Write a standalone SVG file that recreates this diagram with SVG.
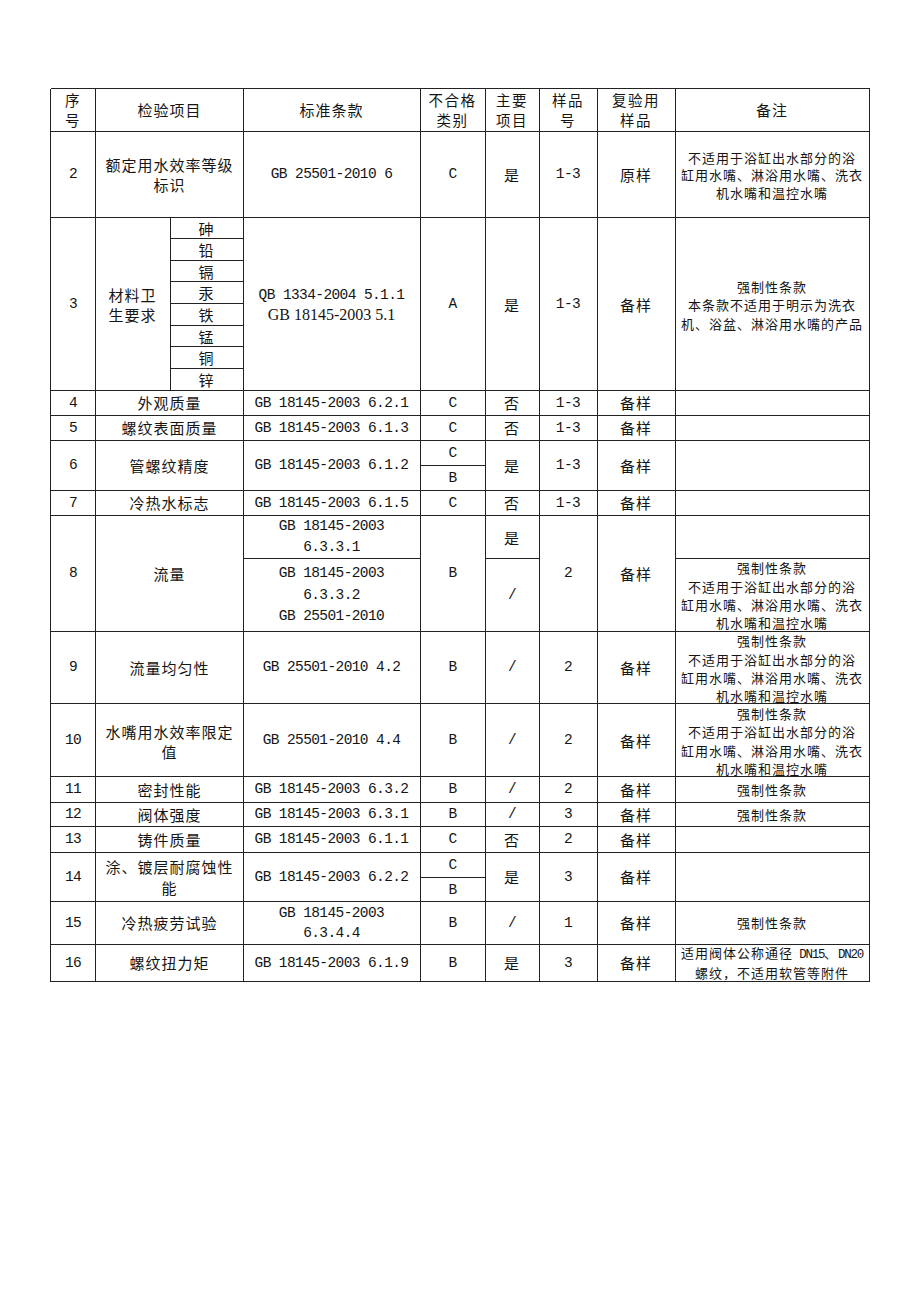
<svg xmlns="http://www.w3.org/2000/svg" width="920" height="1302" viewBox="0 0 920 1302">
<style>
text{fill:#151515;text-anchor:middle;dominant-baseline:central}
.t{font-family:"Noto Sans CJK SC",sans-serif;font-size:15px;letter-spacing:1px}
.h{font-family:"Noto Sans CJK SC",sans-serif;font-size:14.5px;letter-spacing:1.5px}
.m{font-family:"Liberation Mono","Noto Sans CJK SC",monospace;font-size:14.5px;letter-spacing:-0.6px}
.s{font-family:"Liberation Serif",serif;font-size:16px}
.r{font-family:"Noto Sans CJK SC",sans-serif;font-size:13px;letter-spacing:1px}
.rb{dominant-baseline:auto}
.ml{font-family:"Liberation Mono",monospace;font-size:12.5px;letter-spacing:-1.3px}
.g{stroke:#222;stroke-width:1;fill:none;shape-rendering:crispEdges}
</style>
<rect width="920" height="1302" fill="#fff"/>
<g id="grid" class="g">
<path d="M50.5 88.5H869.5M50.5 131.5H869.5M50.5 217.5H869.5M50.5 390.5H869.5M50.5 415.5H869.5M50.5 440.5H869.5M50.5 490.5H869.5M50.5 515.5H869.5M50.5 631.5H869.5M50.5 703.5H869.5M50.5 776.5H869.5M50.5 802.5H869.5M50.5 826.5H869.5M50.5 852.5H869.5M50.5 901.5H869.5M50.5 944.5H869.5M50.5 981.5H869.5"/>
<path d="M50.5 88.5V981.5M95.5 88.5V981.5M243.5 88.5V981.5M420.5 88.5V981.5M485.5 88.5V981.5M539.5 88.5V981.5M597.5 88.5V981.5M675.5 88.5V981.5M869.5 88.5V981.5"/>
<path d="M170.5 217.5V390.5M170.5 238.5H243.5M170.5 260.5H243.5M170.5 281.5H243.5M170.5 303.5H243.5M170.5 325.5H243.5M170.5 346.5H243.5M170.5 368.5H243.5"/>
<path d="M420.5 465.5H485.5M420.5 877.5H485.5M243.5 558.5H420.5M485.5 558.5H539.5M675.5 558.5H869.5"/>
</g>
<g id="header">
<text class="h" x="73" y="99.5">序</text><text class="h" x="73" y="119">号</text>
<text class="t" x="169.5" y="109">检验项目</text>
<text class="t" x="331.5" y="109">标准条款</text>
<text class="h" x="452.5" y="99.5">不合格</text><text class="h" x="452.5" y="119">类别</text>
<text class="h" x="512" y="99.5">主要</text><text class="h" x="512" y="119">项目</text>
<text class="h" x="568" y="99.5">样品</text><text class="h" x="568" y="119">号</text>
<text class="h" x="636" y="99.5">复验用</text><text class="h" x="636" y="119">样品</text>
<text class="t" x="772" y="109">备注</text>
</g>
<g id="row2">
<text class="m" x="73" y="174">2</text>
<text class="t" x="169.5" y="164">额定用水效率等级</text><text class="t" x="169.5" y="184">标识</text>
<text class="m" x="331.5" y="174">GB 25501-2010 6</text>
<text class="m" x="452.5" y="174">C</text><text class="t" x="512" y="174">是</text><text class="m" x="568" y="174">1-3</text><text class="t" x="636" y="174">原样</text>
<text class="r" x="772" y="157">不适用于浴缸出水部分的浴</text><text class="r" x="772" y="174.5">缸用水嘴、淋浴用水嘴、洗衣</text><text class="r" x="772" y="192">机水嘴和温控水嘴</text>
</g>
<g id="row3">
<text class="m" x="73" y="304">3</text>
<text class="t" x="132.5" y="294">材料卫</text><text class="t" x="132.5" y="314">生要求</text>
<text class="t" x="206.5" y="228">砷</text><text class="t" x="206.5" y="249.5">铅</text><text class="t" x="206.5" y="271">镉</text><text class="t" x="206.5" y="292.5">汞</text><text class="t" x="206.5" y="314">铁</text><text class="t" x="206.5" y="336">锰</text><text class="t" x="206.5" y="357.5">铜</text><text class="t" x="206.5" y="379">锌</text>
<text class="m" x="331.5" y="295">QB 1334-2004 5.1.1</text>
<text class="s" x="331.5" y="314">GB 18145-2003 5.1</text>
<text class="m" x="452.5" y="304">A</text><text class="t" x="512" y="304">是</text><text class="m" x="568" y="304">1-3</text><text class="t" x="636" y="304">备样</text>
<text class="r" x="772" y="286">强制性条款</text><text class="r" x="772" y="304.5">本条款不适用于明示为洗衣</text><text class="r" x="772" y="323">机、浴盆、淋浴用水嘴的产品</text>
</g>
<g id="row4">
<text class="m" x="73" y="402.5">4</text><text class="t" x="169.5" y="402.5">外观质量</text><text class="m" x="331.5" y="402.5">GB 18145-2003 6.2.1</text>
<text class="m" x="452.5" y="402.5">C</text><text class="t" x="512" y="402.5">否</text><text class="m" x="568" y="402.5">1-3</text><text class="t" x="636" y="402.5">备样</text>
</g>
<g id="row5">
<text class="m" x="73" y="427.5">5</text><text class="t" x="169.5" y="427.5">螺纹表面质量</text><text class="m" x="331.5" y="427.5">GB 18145-2003 6.1.3</text>
<text class="m" x="452.5" y="427.5">C</text><text class="t" x="512" y="427.5">否</text><text class="m" x="568" y="427.5">1-3</text><text class="t" x="636" y="427.5">备样</text>
</g>
<g id="row6">
<text class="m" x="73" y="465">6</text><text class="t" x="169.5" y="465">管螺纹精度</text><text class="m" x="331.5" y="465">GB 18145-2003 6.1.2</text>
<text class="m" x="452.5" y="453">C</text><text class="m" x="452.5" y="478">B</text><text class="t" x="512" y="465">是</text><text class="m" x="568" y="465">1-3</text><text class="t" x="636" y="465">备样</text>
</g>
<g id="row7">
<text class="m" x="73" y="502.5">7</text><text class="t" x="169.5" y="502.5">冷热水标志</text><text class="m" x="331.5" y="502.5">GB 18145-2003 6.1.5</text>
<text class="m" x="452.5" y="502.5">C</text><text class="t" x="512" y="502.5">否</text><text class="m" x="568" y="502.5">1-3</text><text class="t" x="636" y="502.5">备样</text>
</g>
<g id="row8">
<text class="m" x="73" y="573">8</text><text class="t" x="169.5" y="573">流量</text>
<text class="m" x="331.5" y="526">GB 18145-2003</text><text class="m" x="331.5" y="547">6.3.3.1</text>
<text class="m" x="331.5" y="573">GB 18145-2003</text><text class="m" x="331.5" y="595">6.3.3.2</text><text class="m" x="331.5" y="616">GB 25501-2010</text>
<text class="m" x="452.5" y="573">B</text><text class="t" x="512" y="537">是</text><text class="m" x="512" y="595">/</text><text class="m" x="568" y="573">2</text><text class="t" x="636" y="573">备样</text>
<text class="r" x="772" y="567.5">强制性条款</text><text class="r" x="772" y="586">不适用于浴缸出水部分的浴</text><text class="r" x="772" y="604">缸用水嘴、淋浴用水嘴、洗衣</text><text class="r" x="772" y="622">机水嘴和温控水嘴</text>
</g>
<g id="row9">
<text class="m" x="73" y="667">9</text><text class="t" x="169.5" y="667">流量均匀性</text><text class="m" x="331.5" y="667">GB 25501-2010 4.2</text>
<text class="m" x="452.5" y="667">B</text><text class="m" x="512" y="667">/</text><text class="m" x="568" y="667">2</text><text class="t" x="636" y="667">备样</text>
<text class="r" x="772" y="640.5">强制性条款</text><text class="r" x="772" y="659">不适用于浴缸出水部分的浴</text><text class="r" x="772" y="677.5">缸用水嘴、淋浴用水嘴、洗衣</text><text class="r" x="772" y="695.5">机水嘴和温控水嘴</text>
</g>
<g id="row10">
<text class="m" x="73" y="740">10</text><text class="t" x="169.5" y="731">水嘴用水效率限定</text><text class="t" x="169.5" y="751">值</text><text class="m" x="331.5" y="740">GB 25501-2010 4.4</text>
<text class="m" x="452.5" y="740">B</text><text class="m" x="512" y="740">/</text><text class="m" x="568" y="740">2</text><text class="t" x="636" y="740">备样</text>
<text class="r" x="772" y="713">强制性条款</text><text class="r" x="772" y="731.5">不适用于浴缸出水部分的浴</text><text class="r" x="772" y="750">缸用水嘴、淋浴用水嘴、洗衣</text><text class="r" x="772" y="768">机水嘴和温控水嘴</text>
</g>
<g id="row11">
<text class="m" x="73" y="789">11</text><text class="t" x="169.5" y="789">密封性能</text><text class="m" x="331.5" y="789">GB 18145-2003 6.3.2</text>
<text class="m" x="452.5" y="789">B</text><text class="m" x="512" y="789">/</text><text class="m" x="568" y="789">2</text><text class="t" x="636" y="789">备样</text><text class="r" x="772" y="789">强制性条款</text>
</g>
<g id="row12">
<text class="m" x="73" y="814">12</text><text class="t" x="169.5" y="814">阀体强度</text><text class="m" x="331.5" y="814">GB 18145-2003 6.3.1</text>
<text class="m" x="452.5" y="814">B</text><text class="m" x="512" y="814">/</text><text class="m" x="568" y="814">3</text><text class="t" x="636" y="814">备样</text><text class="r" x="772" y="814">强制性条款</text>
</g>
<g id="row13">
<text class="m" x="73" y="839">13</text><text class="t" x="169.5" y="839">铸件质量</text><text class="m" x="331.5" y="839">GB 18145-2003 6.1.1</text>
<text class="m" x="452.5" y="839">C</text><text class="t" x="512" y="839">否</text><text class="m" x="568" y="839">2</text><text class="t" x="636" y="839">备样</text>
</g>
<g id="row14">
<text class="m" x="73" y="876.5">14</text><text class="t" x="169.5" y="866.5">涂、镀层耐腐蚀性</text><text class="t" x="169.5" y="887">能</text><text class="m" x="331.5" y="876.5">GB 18145-2003 6.2.2</text>
<text class="m" x="452.5" y="865">C</text><text class="m" x="452.5" y="889.5">B</text><text class="t" x="512" y="876.5">是</text><text class="m" x="568" y="876.5">3</text><text class="t" x="636" y="876.5">备样</text>
</g>
<g id="row15">
<text class="m" x="73" y="922.5">15</text><text class="t" x="169.5" y="922.5">冷热疲劳试验</text><text class="m" x="331.5" y="912.5">GB 18145-2003</text><text class="m" x="331.5" y="933">6.3.4.4</text>
<text class="m" x="452.5" y="922.5">B</text><text class="m" x="512" y="922.5">/</text><text class="m" x="568" y="922.5">1</text><text class="t" x="636" y="922.5">备样</text><text class="r" x="772" y="922.5">强制性条款</text>
</g>
<g id="row16">
<text class="m" x="73" y="962.5">16</text><text class="t" x="169.5" y="962.5">螺纹扭力矩</text><text class="m" x="331.5" y="962.5">GB 18145-2003 6.1.9</text>
<text class="m" x="452.5" y="962.5">B</text><text class="t" x="512" y="962.5">是</text><text class="m" x="568" y="962.5">3</text><text class="t" x="636" y="962.5">备样</text>
<text class="r rb" x="772" y="957.5">适用阀体公称通径<tspan class="ml"> DN15</tspan>、<tspan class="ml">DN20</tspan></text>
<text class="r" x="772" y="972">螺纹，不适用软管等附件</text>
</g>
</svg>
